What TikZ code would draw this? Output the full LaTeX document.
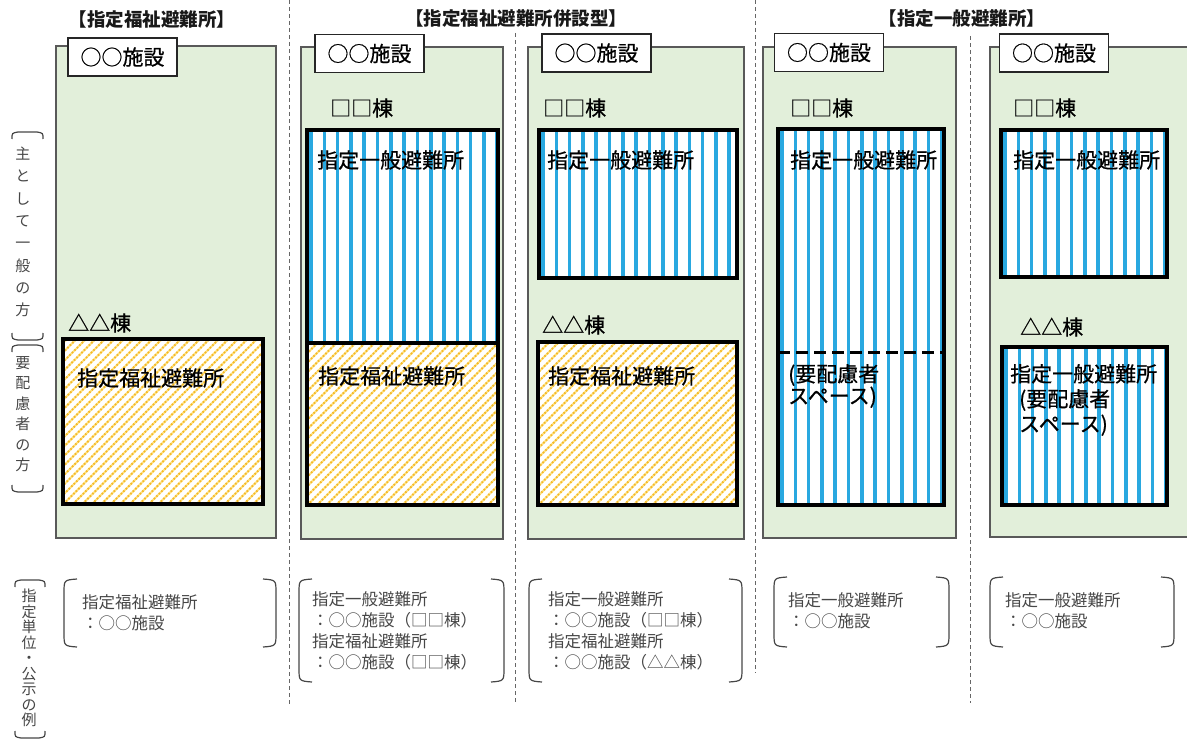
\documentclass[tikz,border=0pt]{standalone}
\usepackage{fontspec}
\setmainfont{Noto Sans CJK JP}
\newfontfamily\labelfont[FakeBold=0.6]{Noto Sans CJK JP}
\definecolor{panelgreen}{RGB}{226,239,218}
\definecolor{panelline}{RGB}{89,89,89}
\definecolor{stripeblue}{RGB}{41,168,224}
\definecolor{hatchyellow}{RGB}{253,226,130}
\definecolor{hatchorange}{RGB}{245,184,40}
\definecolor{notegray}{RGB}{70,70,70}

% vertical blue stripes inside a box: x1, y1 (top), x2, y2 (bottom)
\newcommand{\stripefill}[4]{%
  \begin{scope}
    \clip (#1,#2) rectangle (#3,#4);
    \fill[white] (#1,#2) rectangle (#3,#4);
    \foreach \sx in {4,17.3,...,200}
      \draw[stripe] ({#1+\sx},#2) -- ({#1+\sx},#4);
  \end{scope}}
% diagonal yellow hatching inside a box
\newcommand{\hatchfill}[4]{%
  \begin{scope}
    \clip (#1,#2) rectangle (#3,#4);
    \fill[white] (#1,#2) rectangle (#3,#4);
    \foreach \sx in {-180,-170.5,...,210}{
      \draw[hatch] ({#1+\sx},#4) -- ++(180,-180);
      \draw[hatchdots] ({#1+\sx},#4) -- ++(180,-180);}
  \end{scope}}
% round brackets around a note: left x, right x, top y, bottom y
\newcommand{\notebrackets}[4]{%
  \draw[paren] ({#1+13},#3) .. controls (#1,{#3+1}) .. (#1,{#3+14}) -- (#1,{#4-14}) .. controls (#1,{#4-1}) .. ({#1+13},#4);
  \draw[paren] ({#2-13},#3) .. controls (#2,{#3+1}) .. (#2,{#3+14}) -- (#2,{#4-14}) .. controls (#2,{#4-1}) .. ({#2-13},#4);}
% brackets above and below a vertical side label: left x, right x, top y, bottom y
\newcommand{\sidebrackets}[4]{%
  \draw[paren] (#1,{#3+7}) .. controls (#1,{#3+1}) .. ({#1+6},#3) -- ({#2-6},#3) .. controls (#2,{#3+1}) .. (#2,{#3+7});
  \draw[paren] (#1,{#4-7}) .. controls (#1,{#4-1}) .. ({#1+6},#4) -- ({#2-6},#4) .. controls (#2,{#4-1}) .. (#2,{#4-7});}

\begin{document}
\begin{tikzpicture}[x=1pt, y=-1pt,
    panel/.style={fill=panelgreen, draw=panelline, line width=1.5pt},
    facility/.style={draw=black!85, fill=white, line width=1.2pt, minimum width=109pt, minimum height=38pt, inner sep=0pt, font=\labelfont\fontsize{21}{21}\selectfont},
    heading/.style={inner sep=0pt, text=black!90, font=\fontsize{18.5}{18.5}\selectfont\bfseries},
    wing/.style={anchor=west, inner sep=0pt, font=\labelfont\fontsize{21}{21}\selectfont},
    boxlabel/.style={anchor=west, inner sep=0pt, align=left, font=\labelfont\fontsize{21}{25}\selectfont},
    wallbox/.style={draw=black, line width=4pt},
    separator/.style={draw=black!60, line width=1pt, dash pattern=on 4pt off 3pt},
    paren/.style={draw=notegray, line width=1.2pt},
    notetext/.style={anchor=north west, inner sep=0pt, align=left, text=notegray, font=\fontsize{16.5}{21.3}\selectfont},
    sidetext/.style={inner sep=0pt, align=center, text=notegray},
    stripe/.style={draw=stripeblue, line width=3.6pt},
    hatch/.style={draw=hatchyellow, line width=2pt},
    hatchdots/.style={draw=hatchorange, line width=2pt, dash pattern=on 1.5pt off 2pt}
  ]
    \useasboundingbox (0,0) rectangle (1187,749);
    \clip (0,0) rectangle (1187,749);

    % separators
    \draw[separator] (289,0) -- (289,705);
    \draw[separator] (515,33) -- (515,703);
    \draw[separator] (755,0) -- (755,673);
    \draw[separator] (970,36) -- (970,703);

    % headings
    \node[heading] (head1) at (152,20) {【指定福祉避難所】};
    \node[heading] (head2) at (516,19) {【指定福祉避難所併設型】};
    \node[heading] (head3) at (962,19) {【指定一般避難所】};

    % facilities
    \draw[panel] (56,46) rectangle (276,538);
    \draw[panel] (301,47) rectangle (503,539);
    \draw[panel] (528,47) rectangle (744,539);
    \draw[panel] (763,47) rectangle (956,538);
    \draw[panel] (990,47) rectangle (1200,537);

    \node[facility] (fac1) at (122.5,57) {○○施設};
    \node[facility] (fac2) at (369.5,53.5) {○○施設};
    \node[facility] (fac3) at (596.5,53) {○○施設};
    \node[facility] (fac4) at (829,52.5) {○○施設};
    \node[facility] (fac5) at (1054,53) {○○施設};

    % buildings
    \hatchfill{63}{339}{263}{504}
    \draw[wallbox] (63,339) rectangle (263,504);

    \stripefill{307}{130}{498}{343}
    \hatchfill{307}{343}{498}{505}
    \draw[wallbox] (307,130) rectangle (498,505);
    \draw[wallbox] (307,343) -- (498,343);

    \stripefill{539}{130}{737}{278}
    \draw[wallbox] (539,130) rectangle (737,278);
    \hatchfill{538}{342}{737}{505}
    \draw[wallbox] (538,342) rectangle (737,505);

    \stripefill{778}{129}{944}{505}
    \draw[wallbox] (778,129) rectangle (944,505);
    \draw[black, line width=3pt, dash pattern=on 12pt off 6pt] (778,352) -- (944,352);

    \stripefill{1001}{130}{1167}{277}
    \draw[wallbox] (1001,130) rectangle (1167,277);
    \stripefill{1002}{347}{1167}{505}
    \draw[wallbox] (1002,347) rectangle (1167,505);

    \node[wing] (wing1) at (68,323) {△△棟};
    \node[wing] (wing2) at (330,108) {□□棟};
    \node[wing] (wing3) at (543,108) {□□棟};
    \node[wing] (wing4) at (542,325) {△△棟};
    \node[wing] (wing5) at (790,108) {□□棟};
    \node[wing] (wing6) at (1013,108) {□□棟};
    \node[wing] (wing7) at (1020,327) {△△棟};

    \node[boxlabel] (gen2) at (317,160) {指定一般避難所};
    \node[boxlabel] (gen3) at (547,160) {指定一般避難所};
    \node[boxlabel] (gen4) at (790,160) {指定一般避難所};
    \node[boxlabel] (gen5) at (1013,160) {指定一般避難所};
    \node[boxlabel] (wel1) at (77,378) {指定福祉避難所};
    \node[boxlabel] (wel2) at (318,376) {指定福祉避難所};
    \node[boxlabel] (wel3) at (548,376) {指定福祉避難所};
    \node[boxlabel, font=\labelfont\fontsize{21}{22}\selectfont] (care4) at (788,386) {(要配慮者\\スペース)};
    \node[boxlabel] (care5) at (1010,400) {指定一般避難所\\\hspace*{9pt}(要配慮者\\\hspace*{9pt}スペース)};

    % side labels
    \sidebrackets{12}{43}{132}{340}
    \node[sidetext, font=\fontsize{15}{22.3}\selectfont] (side1) at (23,232) {主\\と\\し\\て\\一\\般\\の\\方};
    \sidebrackets{12}{43}{345}{492}
    \node[sidetext, font=\fontsize{15}{20.5}\selectfont] (side2) at (23,414) {要\\配\\慮\\者\\の\\方};
    \sidebrackets{15}{45}{580}{738}
    \node[sidetext, font=\fontsize{15}{15.5}\selectfont] (side3) at (29,658) {指\\定\\単\\位\\・\\公\\示\\の\\例};

    % notes
    \notebrackets{64}{276}{579}{647}
    \node[notetext] (note1) at (82,594) {指定福祉避難所\\：○○施設};
    \notebrackets{299}{504}{579}{682}
    \node[notetext] (note2) at (312,591) {指定一般避難所\\：○○施設（□□棟）\\指定福祉避難所\\：○○施設（□□棟）};
    \notebrackets{529}{742}{579}{682}
    \node[notetext] (note3) at (548,591) {指定一般避難所\\：○○施設（□□棟）\\指定福祉避難所\\：○○施設（△△棟）};
    \notebrackets{774}{949}{577}{647}
    \node[notetext] (note4) at (788,592) {指定一般避難所\\：○○施設};
    \notebrackets{990}{1174}{577}{647}
    \node[notetext] (note5) at (1005,592) {指定一般避難所\\：○○施設};

\end{tikzpicture}
\end{document}
